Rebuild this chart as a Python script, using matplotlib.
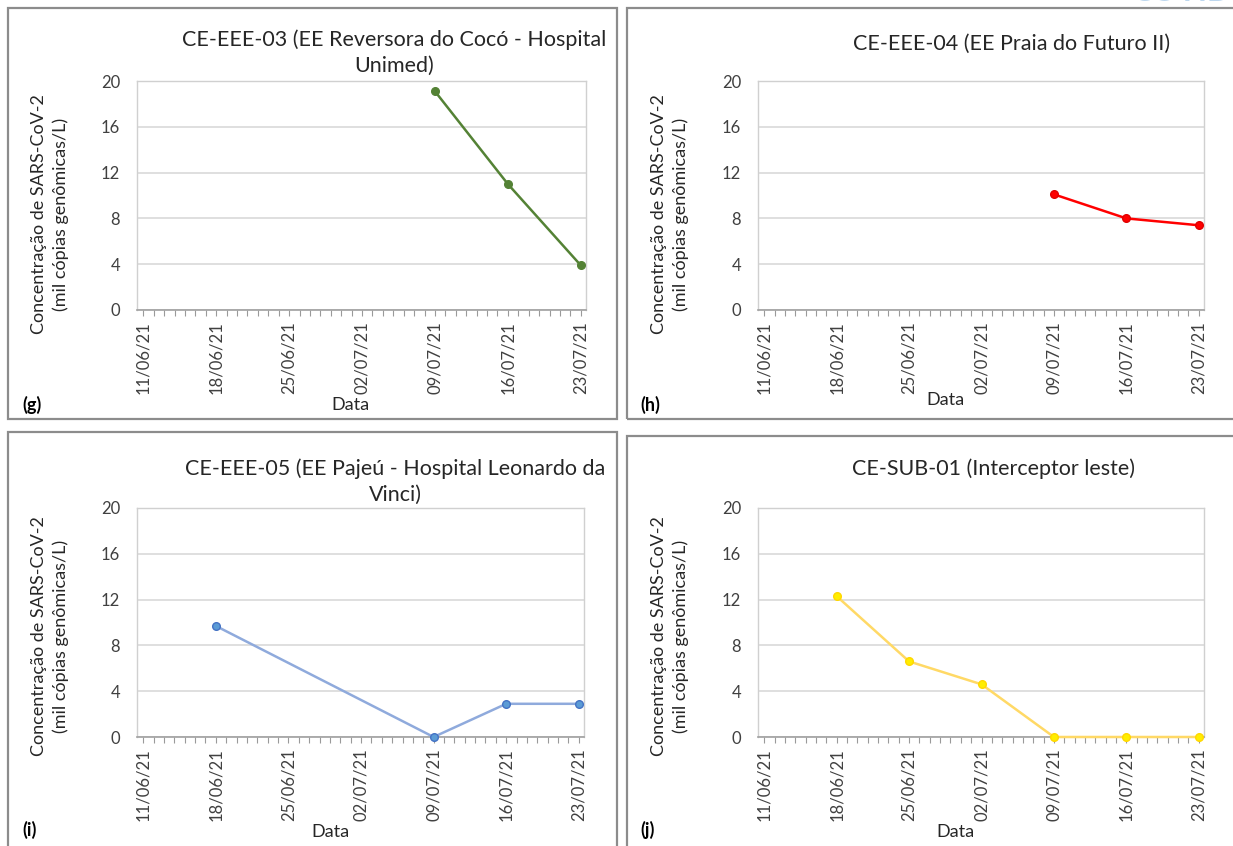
import matplotlib
matplotlib.use("Agg")
import matplotlib.pyplot as plt
import matplotlib.dates as mdates
from matplotlib.patches import Rectangle
import pandas as pd

plt.rcParams['font.family'] = ['Lato', 'DejaVu Sans']

# data
tick_dates = ["11/06/21", "18/06/21", "25/06/21", "02/07/21", "09/07/21", "16/07/21", "23/07/21"]
y_ticks = [0, 4, 8, 12, 16, 20]

titles = {
    "g": "CE-EEE-03 (EE Reversora do Cocó - Hospital\nUnimed)",
    "h": "CE-EEE-04 (EE Praia do Futuro II)",
    "i": "CE-EEE-05 (EE Pajeú - Hospital Leonardo da\nVinci)",
    "j": "CE-SUB-01 (Interceptor leste)",
}

dates_g = ["09/07/21", "16/07/21", "23/07/21"]
vals_g = [19.1, 11.0, 3.9]

dates_h = ["09/07/21", "16/07/21", "23/07/21"]
vals_h = [10.1, 8.0, 7.4]

dates_i = ["18/06/21", "09/07/21", "16/07/21", "23/07/21"]
vals_i = [9.7, 0.0, 2.9, 2.9]

dates_j = ["18/06/21", "25/06/21", "02/07/21", "09/07/21", "16/07/21", "23/07/21"]
vals_j = [12.3, 6.6, 4.6, 0.0, 0.0, 0.0]

ylabel = "Concentração de SARS-CoV-2\n(mil cópias genômicas/L)"

W, H = 1233, 846


def to_num(lst):
    return mdates.date2num(pd.to_datetime(lst, format="%d/%m/%y"))


def px(x0, y0, x1, y1):
    # pixel box (top-left origin) -> figure fraction rect
    return [x0 / W, 1 - y1 / H, (x1 - x0) / W, (y1 - y0) / H]


fig = plt.figure(figsize=(W / 100, H / 100), dpi=100)

# panel frames
for (x0, y0, x1, y1) in [(8, 8, 617, 419), (627, 8, 1245, 419),
                         (8, 432, 617, 855), (627, 436, 1245, 855)]:
    fig.patches.append(Rectangle((x0 / W, 1 - y1 / H), (x1 - x0) / W, (y1 - y0) / H,
                                 transform=fig.transFigure, fill=False,
                                 edgecolor="#8c8c8c", linewidth=1.6))

panels = [
    ("g", dates_g, vals_g, "#548235", "#548235", "#548235", (137, 81, 586, 310)),
    ("h", dates_h, vals_h, "#ff0000", "#ff0000", "#e00000", (758, 81, 1204, 310)),
    ("i", dates_i, vals_i, "#8faadc", "#5b9bd5", "#4472c4", (137, 508, 584, 737)),
    ("j", dates_j, vals_j, "#ffd966", "#ffee00", "#ffd700", (758, 508, 1204, 737)),
]

t0 = to_num(tick_dates)[0]
t1 = to_num(tick_dates)[-1]

title_pos = {"g": (394, 29), "h": (1012, 34), "i": (395, 458), "j": (993, 458)}
ylab_x = {"g": 50, "h": 670, "i": 50, "j": 670}
ylab_y = {"g": 214, "h": 214, "i": 636, "j": 636}
data_pos = {"g": (350, 405), "h": (945, 400), "i": (330, 832), "j": (955, 832)}
tag_pos = {"g": (22, 405), "h": (640, 405), "i": (22, 830), "j": (640, 830)}

for key, d, v, lc, mfc, mec, box in panels:
    ax = fig.add_axes(px(*box))
    ax.plot(to_num(d), v, color=lc, linewidth=1.8, marker="o", markersize=5.5,
            markerfacecolor=mfc, markeredgecolor=mec, zorder=5, clip_on=False)
    ax.set_xlim(t0 - 0.6, t1 + 0.5)
    ax.set_ylim(0, 20)
    ax.set_yticks(y_ticks)
    ax.set_xticks(to_num(tick_dates))
    ax.set_xticklabels(tick_dates, rotation=90)
    ax.xaxis.set_minor_locator(mdates.DayLocator())
    ax.tick_params(axis="y", length=0, labelsize=12, pad=12, colors="#404040")
    ax.tick_params(axis="x", which="both", length=4, width=0.8, color="#9a9a9a",
                   labelsize=12, pad=4, labelcolor="#404040")
    ax.grid(axis="y", color="#d9d9d9", linewidth=1.2)
    ax.set_axisbelow(True)
    for s in ["top", "right", "left"]:
        ax.spines[s].set_color("#d0d0d0")
        ax.spines[s].set_linewidth(1.0)
    ax.spines["bottom"].set_color("#a0a0a0")
    ax.spines["bottom"].set_linewidth(1.2)

    tx, ty = title_pos[key]
    fig.text(tx / W, 1 - ty / H, titles[key], ha="center", va="top",
             fontsize=15.5, color="#262626", linespacing=1.4)
    fig.text(ylab_x[key] / W, 1 - ylab_y[key] / H, ylabel, rotation=90,
             ha="center", va="center", fontsize=13, color="#262626",
             multialignment="center", linespacing=1.45)
    dx, dy = data_pos[key]
    fig.text(dx / W, 1 - dy / H, "Data", ha="center", va="center",
             fontsize=13, color="#262626")
    gx, gy = tag_pos[key]
    fig.text(gx / W, 1 - gy / H, "(" + key + ")", ha="left", va="center",
             fontsize=13, fontweight="bold", color="#000000")

# cut-off logo text at the top right corner
fig.text(1182 / W, 1 + 8 / H, "COVID", ha="center", va="center",
         fontsize=22, fontweight="bold", color="#bdd7ee")

fig.savefig("out.png", dpi=100)
